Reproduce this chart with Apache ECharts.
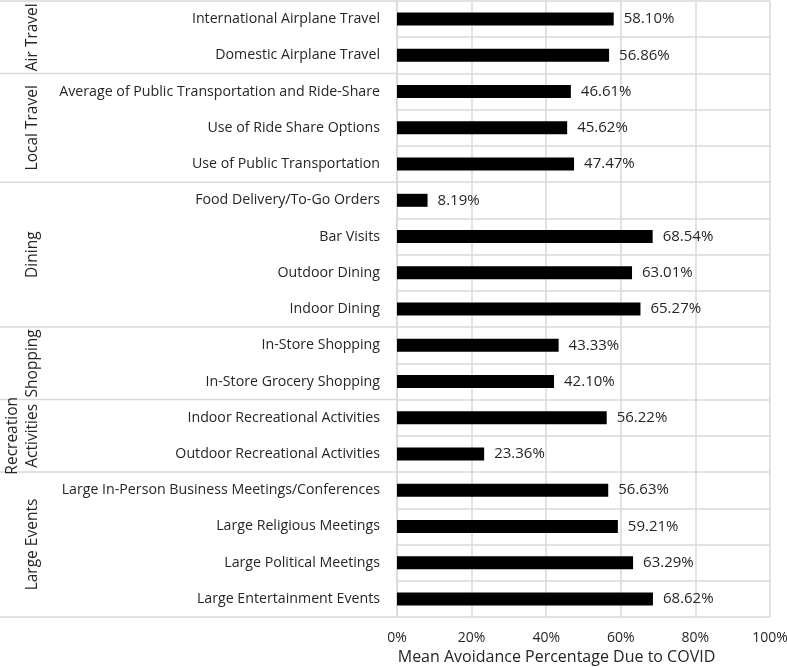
<!DOCTYPE html>
<html>
<head>
<meta charset="utf-8">
<script src="https://cdn.jsdelivr.net/npm/echarts@6/dist/echarts.min.js"></script>
<style>
  html, body { margin: 0; padding: 0; background: #fff; }
  #main { width: 787px; height: 667px; }
</style>
</head>
<body>
<div id="main"></div>
<script>
// activities, top to bottom
const activities = [
    'International Airplane Travel',
    'Domestic Airplane Travel',
    'Average of Public Transportation and Ride-Share',
    'Use of Ride Share Options',
    'Use of Public Transportation',
    'Food Delivery/To-Go Orders',
    'Bar Visits',
    'Outdoor Dining',
    'Indoor Dining',
    'In-Store Shopping',
    'In-Store Grocery Shopping',
    'Indoor Recreational Activities',
    'Outdoor Recreational Activities',
    'Large In-Person Business Meetings/Conferences',
    'Large Religious Meetings',
    'Large Political Meetings',
    'Large Entertainment Events'
]
const avoidance = [58.10, 56.86, 46.61, 45.62, 47.47, 8.19, 68.54, 63.01, 65.27,
    43.33, 42.10, 56.22, 23.36, 56.63, 59.21, 63.29, 68.62]
// group name and number of activities in it
const groupNames = ['Air Travel', 'Local Travel', 'Dining', 'Shopping', 'Recreation\nActivities', 'Large Events']
const groupSizes = [2, 3, 4, 2, 2, 4]
const xTicks = [0, 20, 40, 60, 80, 100]

const FONT = 'Open Sans'
const TEXT = '#262626'
const GRID = '#d9d9d9'

const chart = echarts.init(document.getElementById('main'))

const option = {
    animation: false,
    grid: { left: 397, right: 17, top: 1, bottom: 50, outerBoundsMode: 'none', containLabel: false },
    xAxis: {
        type: 'value',
        min: xTicks[0],
        max: xTicks[xTicks.length - 1],
        interval: xTicks[1] - xTicks[0],
        name: 'Mean Avoidance Percentage Due to COVID',
        nameLocation: 'middle',
        nameGap: 31,
        nameTextStyle: { fontFamily: FONT, fontSize: 16, color: TEXT, padding: [0, 54, 0, 0] },
        axisLine: { show: false },
        axisTick: { show: false },
        axisLabel: {
            formatter: '{value}%',
            fontFamily: FONT, fontSize: 14, color: TEXT, margin: 14
        },
        splitLine: { lineStyle: { color: GRID, width: 1.5 } }
    },
    yAxis: {
        type: 'category',
        inverse: true,
        data: activities,
        axisLine: { lineStyle: { color: GRID, width: 1.5 } },
        axisTick: { show: false },
        axisLabel: { fontFamily: FONT, fontSize: 14.2, color: TEXT, margin: 17 },
        splitLine: { show: true, lineStyle: { color: GRID, width: 1.5 } }
    },
    series: [{
        type: 'bar',
        data: avoidance,
        barWidth: 13,
        itemStyle: { color: '#000' },
        label: {
            show: true,
            position: 'right',
            distance: 10,
            fontFamily: FONT, fontSize: 15, color: TEXT,
            formatter: function (p) { return p.value.toFixed(2) + '%' }
        }
    }]
}
chart.setOption(option)

// group separators and rotated group names, placed from the category scale
const c0 = chart.convertToPixel({ yAxisIndex: 0 }, 0)
const c1 = chart.convertToPixel({ yAxisIndex: 0 }, 1)
const band = c1 - c0
const gridLeft = chart.convertToPixel({ xAxisIndex: 0 }, 0)
const elements = []
let start = 0
function sepLine(y) {
    elements.push({
        type: 'line',
        shape: { x1: 0, y1: y, x2: gridLeft, y2: y },
        style: { stroke: GRID, lineWidth: 1.5 }
    })
}
sepLine(c0 - band / 2)
groupNames.forEach(function (name, i) {
    const end = start + groupSizes[i] - 1
    const top = chart.convertToPixel({ yAxisIndex: 0 }, start) - band / 2
    const bottom = chart.convertToPixel({ yAxisIndex: 0 }, end) + band / 2
    sepLine(bottom)
    elements.push({
        type: 'text',
        x: 33 - (name.indexOf('\n') >= 0 ? 10 : 0),
        y: (top + bottom) / 2,
        rotation: Math.PI / 2,
        style: {
            text: name,
            fontFamily: FONT, fontSize: 15.5, fill: TEXT,
            textAlign: 'center', textVerticalAlign: 'middle', lineHeight: 20
        }
    })
    start = end + 1
})
chart.setOption({ graphic: elements })
</script>
</body>
</html>
